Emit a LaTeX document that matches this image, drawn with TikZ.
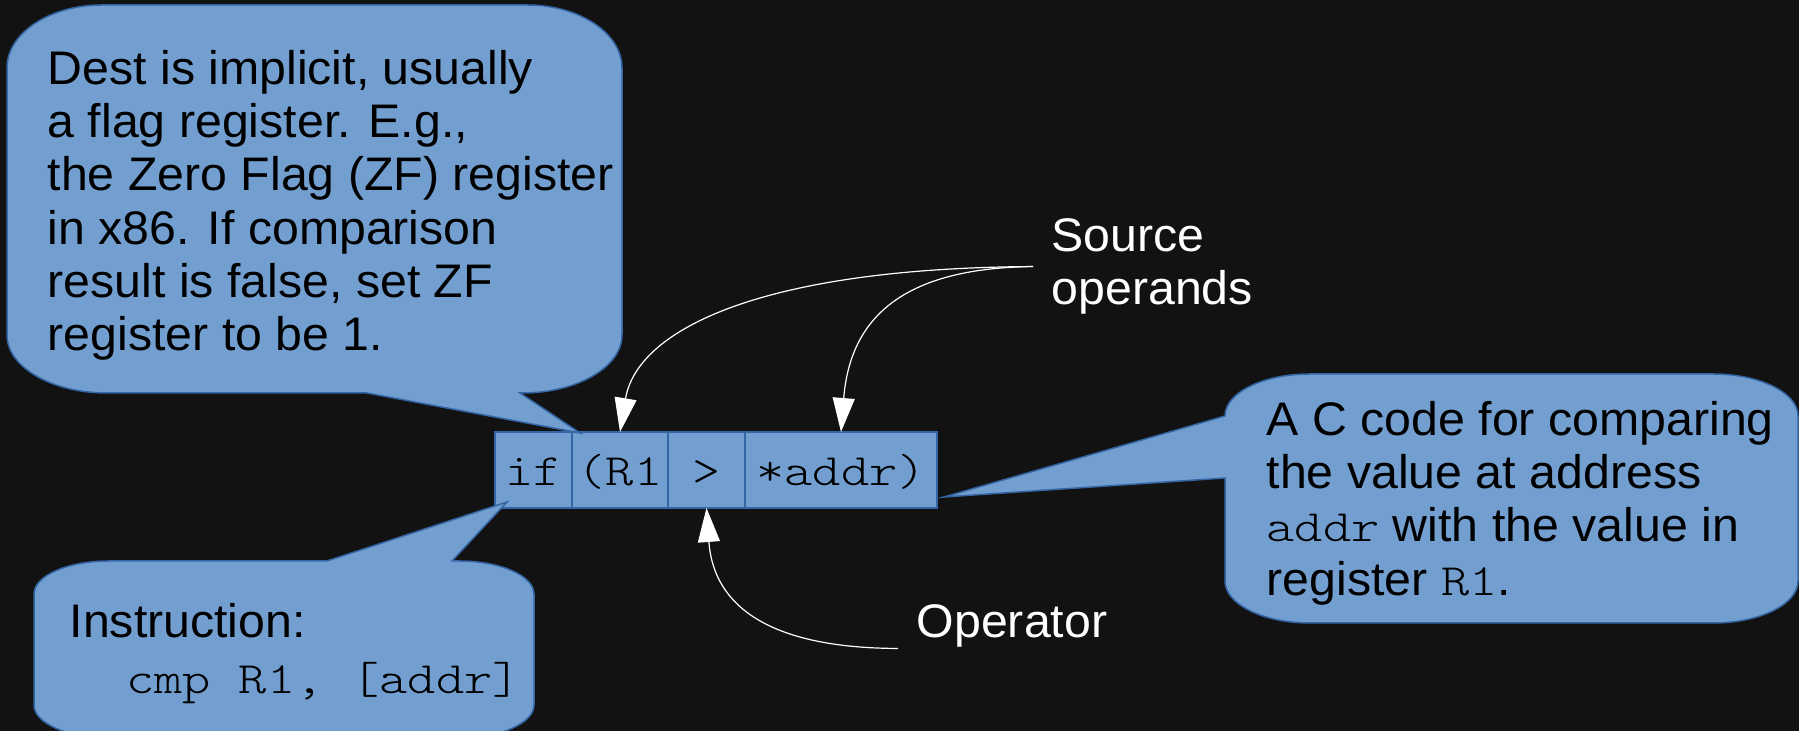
\documentclass[tikz,border=0pt]{standalone}
\usepackage{fontspec}
\setmainfont{Liberation Sans}[FakeStretch=1.025]
\setmonofont{lmmonolt10-regular.otf}[FakeStretch=1.2, Scale=0.95]
\usetikzlibrary{positioning, arrows.meta}

\definecolor{bgdark}{HTML}{121212}
\definecolor{calloutfill}{HTML}{729FCF}
\definecolor{calloutline}{HTML}{3465A4}

\begin{document}
\begin{tikzpicture}[x=0.1mm, y=-0.1mm,
    font=\fontsize{13.4}{15.1}\selectfont,
    callout/.style={fill=calloutfill, draw=calloutline, line width=0.15mm},
    cell/.style={fill=calloutfill, draw=calloutline, line width=0.15mm,
        font=\fontsize{13.4}{15.1}\selectfont\ttfamily,
        minimum height=7.6mm, inner sep=0pt, outer sep=0pt,
        text height=3.9mm, text depth=0.85mm},
    note/.style={align=left, inner sep=0pt, anchor=north west},
    tag/.style={white, inner ysep=0pt},
    conn/.style={white, line width=0.12mm, -{Triangle[length=3.4mm, width=2.2mm]}}
]

    % 0. Dark background, fixed size of the page
    \useasboundingbox (0,0) rectangle (1799,731);
    \fill[bgdark] (0,0) rectangle (1799,731);

    % 1. The C expression, one cell per token
    \node[cell, minimum width=7.7mm, anchor=north west] (ifcell) at (495,432) {if};
    \node[cell, minimum width=9.6mm, right=0mm of ifcell] (regcell) {(R1};
    \node[cell, minimum width=7.7mm, right=0mm of regcell] (gtcell) {>};
    \node[cell, minimum width=19.2mm, right=0mm of gtcell] (addrcell) {*addr)};

    % 2. Callout top left (destination), tail points at the expression
    \filldraw[callout] (7,68) arc[start angle=180, end angle=270, x radius=95, y radius=63]
        -- (527,5) arc[start angle=270, end angle=360, x radius=95, y radius=63]
        -- (622,335) arc[start angle=0, end angle=90, x radius=100, y radius=58]
        -- (520,393) -- (580,433) -- (367,393)
        -- (107,393) arc[start angle=90, end angle=180, x radius=100, y radius=58]
        -- cycle;

    % 3. Callout bottom left (instruction)
    \filldraw[callout] (34,594) arc[start angle=180, end angle=270, x radius=75, y radius=33]
        -- (327,561) -- (507,502) -- (452,561)
        -- (459,561) arc[start angle=270, end angle=360, x radius=75, y radius=33]
        -- (534,705) arc[start angle=0, end angle=90, x radius=75, y radius=33]
        -- (109,738) arc[start angle=90, end angle=180, x radius=75, y radius=33]
        -- cycle;

    % 4. Callout on the right (C code), tail from its left side
    \filldraw[callout] (1225,416) arc[start angle=180, end angle=270, x radius=85, y radius=42]
        -- (1713,374) arc[start angle=270, end angle=360, x radius=85, y radius=42]
        -- (1798,581) arc[start angle=0, end angle=90, x radius=85, y radius=42]
        -- (1310,623) arc[start angle=90, end angle=180, x radius=85, y radius=42]
        -- (1225,478) -- (944,497) -- cycle;

    % 5. Texts in the callouts
    \node[note] (desttext) at (47,50) {Dest is implicit, usually\\a flag register. E.g.,\\the Zero Flag (ZF) register\\in x86. If comparison\\result is false, set ZF\\register to be 1.};
    \node[note] (instrtext) at (69,603) {Instruction:\\[0.3mm]\texttt{\ \ cmp R1, [addr]}};
    \node[note] (ctext) at (1266,401) {A C code for comparing\\the value at address\\\texttt{addr} with the value in\\register \texttt{R1}.};

    % 6. White labels and their arrows
    \node[tag, align=left, anchor=north west, inner xsep=1.8mm] (srclabel) at (1033,218) {Source\\operands};
    \node[tag, anchor=base west, inner xsep=1.8mm] (oplabel) at (898,638) {Operator};

    \draw[conn] (srclabel.west) .. controls (760,268) and (637,330) .. (regcell.north);
    \draw[conn] (srclabel.west) .. controls (900,268) and (850,320) .. (addrcell.north);
    \draw[conn] (oplabel.south west) .. controls (740,648) and (712,585) .. (gtcell.south);

\end{tikzpicture}
\end{document}
